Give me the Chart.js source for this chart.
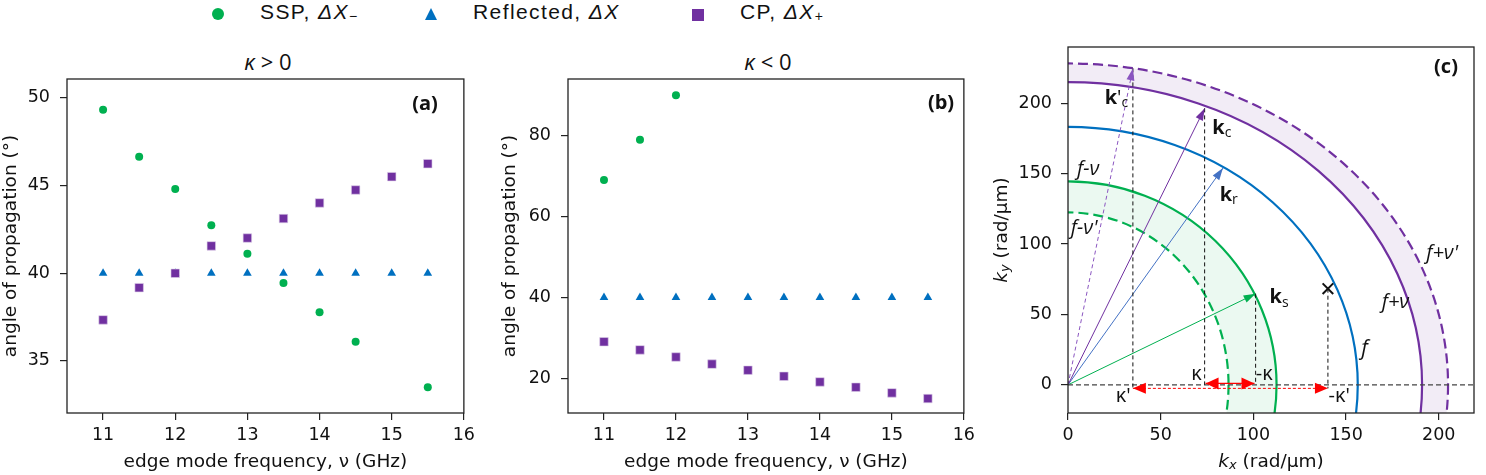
<!DOCTYPE html>
<html>
<head>
<meta charset="utf-8">
<script src="https://cdn.jsdelivr.net/npm/chart.js@4/dist/chart.umd.min.js"></script>
<style>
  body { margin: 0; width: 1486px; height: 475px; position: relative; background: #fff; overflow: hidden; }
  canvas { position: absolute; top: 0; }
  .lg { position: absolute; top: 0; font: 21px "Liberation Sans", Arial, sans-serif; letter-spacing: 1.4px; line-height: 24px; color: #111; white-space: nowrap; }
  .lg sub { font-size: 14px; vertical-align: -2px; }
  .mk { position: absolute; }
  .ttl { position: absolute; top: 50px; font: 22px "Open Sans", sans-serif; line-height: 22px; color: #111; transform: translateX(-50%); white-space: nowrap; }
  .pl { position: absolute; font: bold 20px "Open Sans", sans-serif; line-height: 20px; color: #111; transform: translateX(-50%); }
</style>
</head>
<body>

<!-- legend -->
<div class="mk" style="left:212px;top:8px;width:12px;height:12px;border-radius:50%;background:#00B050"></div>
<div class="lg" style="left:260px">SSP, <i>ΔX</i><sub>−</sub></div>
<div class="mk" style="left:425px;top:8px;width:0;height:0;border-left:6px solid transparent;border-right:6px solid transparent;border-bottom:12px solid #0070C0"></div>
<div class="lg" style="left:473px">Reflected, <i>ΔX</i></div>
<div class="mk" style="left:692px;top:9px;width:12px;height:12px;background:#7030A0"></div>
<div class="lg" style="left:740px">CP, <i>ΔX</i><sub>+</sub></div>

<div class="ttl" style="left:268px"><i>κ</i> &gt; 0</div>
<div class="ttl" style="left:768px"><i>κ</i> &lt; 0</div>

<canvas id="chartA" width="480" height="475" style="left:0"></canvas>
<canvas id="chartB" width="500" height="475" style="left:480px"></canvas>
<canvas id="chartC" width="506" height="475" style="left:980px"></canvas>

<div class="pl" style="left:425px;top:93px">(a)</div>
<div class="pl" style="left:941px;top:92px">(b)</div>
<div class="pl" style="left:1446px;top:56px">(c)</div>

<script>
// edge mode frequency (GHz)
const freqs = [11, 11.5, 12, 12.5, 13, 13.5, 14, 14.5, 15, 15.5];

// kappa > 0, angle of propagation (deg)
const sspPos  = [49.33, 46.65, 44.81, 42.74, 41.12, 39.45, 37.78, 36.1, null, 33.5];
const reflPos = [40, 40, 40, 40, 40, 40, 40, 40, 40, 40];
const cpPos   = [37.34, 39.18, 40.0, 41.56, 42.01, 43.12, 44.01, 44.75, 45.51, 46.25];

// kappa < 0
const sspNeg  = [69.0, 78.9, 89.9, null, null, null, null, null, null, null];
const reflNeg = [40, 40, 40, 40, 40, 40, 40, 40, 40, 40];
const cpNeg   = [29.1, 27.1, 25.35, 23.6, 22.1, 20.6, 19.2, 17.9, 16.5, 15.1];

const freqTicks = [11, 12, 13, 14, 15, 16];
const angleTicksA = [35, 40, 45, 50];
const angleTicksB = [20, 40, 60, 80];

// panel (c): isofrequency contours, intercepts on kx / ky axes (rad/um)
const contourNames = ["f-ν'", "f-ν", "f", "f+ν", "f+ν'"];
const contourKx = [86.6, 112.5, 156.3, 191, 205];
const contourKy = [122.5, 144.5, 183.2, 215, 228.3];

// wavevector tips
const vecNames = ["k'c", "kc", "kr", "ks"];
const vecKx = [35, 73.7, 83.6, 101.2];
const vecKy = [224.8, 196.4, 154, 64.7];

// forbidden point (x) and kappa arrows
const crossKx = 140.2, crossKy = 68.3;
const kappaKx = [74.2, 100.6], kappaKy = 1;
const kappaPrimeKx = [35, 140.2], kappaPrimeKy = -2.5;

const kTicks = [0, 50, 100, 150, 200];

const GREEN = '#00B050', BLUE = '#0070C0', PURPLE = '#7030A0';
const TICKFONT = {family: 'DejaVu Sans', size: 17.5};
const LABELFONT = {family: 'DejaVu Sans', size: 18.5};

function pts(xs, ys) {
    return xs.map((x, i) => ({x: x, y: ys[i]})).filter(p => p.y !== null);
}

const framePlugin = {
    id: 'frame',
    afterDraw(chart) {
        const {ctx, chartArea: a} = chart;
        ctx.save();
        ctx.strokeStyle = '#222';
        ctx.lineWidth = 1.3;
        ctx.strokeRect(a.left, a.top, a.width, a.height);
        ctx.restore();
    }
};

function axisGrid() {
    return {display: true, drawOnChartArea: false, drawTicks: true, tickLength: 7, color: '#222', lineWidth: 1.2};
}

function angleChart(id, ssp, refl, cp, yMin, yMax, yTicks, yAxisWidth, yTitlePad) {
    return new Chart(document.getElementById(id), {
        type: 'scatter',
        data: {
            datasets: [
                {label: 'CP', data: pts(freqs, cp), pointStyle: 'rect', pointRadius: 6, backgroundColor: PURPLE, borderColor: '#ddd0ea', borderWidth: 0.6},
                {label: 'SSP', data: pts(freqs, ssp), pointStyle: 'circle', pointRadius: 4, backgroundColor: GREEN, borderColor: GREEN, borderWidth: 0},
                {label: 'Reflected', data: pts(freqs, refl), pointStyle: 'triangle', pointRadius: 5, backgroundColor: BLUE, borderColor: BLUE, borderWidth: 0}
            ]
        },
        options: {
            responsive: false,
            animation: false,
            layout: {padding: {left: 0, right: 11, top: 79, bottom: 0}},
            plugins: {legend: {display: false}, tooltip: {enabled: false}},
            scales: {
                x: {
                    type: 'linear', min: 10.5, max: 16,
                    afterFit: s => { s.height = 62; },
                    afterBuildTicks: s => { s.ticks = freqTicks.map(v => ({value: v})); },
                    grid: axisGrid(), border: {display: false},
                    ticks: {font: TICKFONT, color: '#111', padding: 5, maxRotation: 0},
                    title: {display: true, text: 'edge mode frequency, ν (GHz)', font: LABELFONT, color: '#111', padding: {top: 0, bottom: 2}}
                },
                y: {
                    type: 'linear', min: yMin, max: yMax,
                    afterFit: s => { s.width = yAxisWidth; },
                    afterBuildTicks: s => { s.ticks = yTicks.map(v => ({value: v})); },
                    grid: axisGrid(), border: {display: false},
                    ticks: {font: TICKFONT, color: '#111', padding: 10},
                    title: {display: true, text: 'angle of propagation (°)', font: LABELFONT, color: '#111', padding: {top: yTitlePad, bottom: 0}}
                }
            }
        },
        plugins: [framePlugin]
    });
}

angleChart('chartA', sspPos, reflPos, cpPos, 32.03, 51.08, angleTicksA, 67, 0);
angleChart('chartB', sspNeg, reflNeg, cpNeg, 11.54, 93.9, angleTicksB, 88, 19);

// ---------- panel (c) ----------
const contourStyle = [
    {color: GREEN, dash: [10, 5]},
    {color: GREEN, dash: []},
    {color: BLUE, dash: []},
    {color: PURPLE, dash: []},
    {color: PURPLE, dash: [10, 5]}
];
const bands = [[0, 1, 'rgba(0,176,80,0.08)'], [3, 4, 'rgba(112,48,160,0.09)']];

const contourPlugin = {
    id: 'contours',
    beforeDatasetsDraw(chart) {
        const {ctx, chartArea: a, scales: {x, y}} = chart;
        const cx = x.getPixelForValue(0), cy = y.getPixelForValue(0);
        const rx = v => x.getPixelForValue(v) - cx;
        const ry = v => cy - y.getPixelForValue(v);
        ctx.save();
        ctx.beginPath();
        ctx.rect(a.left, a.top, a.width, a.height);
        ctx.clip();
        bands.forEach(([i, j, fill]) => {
            ctx.beginPath();
            ctx.ellipse(cx, cy, rx(contourKx[j]), ry(contourKy[j]), 0, 0, 2 * Math.PI);
            ctx.moveTo(cx + rx(contourKx[i]), cy);
            ctx.ellipse(cx, cy, rx(contourKx[i]), ry(contourKy[i]), 0, 0, 2 * Math.PI);
            ctx.fillStyle = fill;
            ctx.fill('evenodd');
        });
        contourKx.forEach((k, i) => {
            ctx.beginPath();
            ctx.ellipse(cx, cy, rx(k), ry(contourKy[i]), 0, 0, 2 * Math.PI);
            ctx.strokeStyle = contourStyle[i].color;
            ctx.lineWidth = 2.2;
            ctx.setLineDash(contourStyle[i].dash);
            ctx.stroke();
        });
        ctx.restore();
    }
};

const arrowPlugin = {
    id: 'arrows',
    afterDatasetsDraw(chart) {
        const ctx = chart.ctx;
        chart.data.datasets.forEach((ds, i) => {
            if (!ds.arrow) return;
            const p = chart.getDatasetMeta(i).data;
            const head = (from, to) => {
                const ang = Math.atan2(to.y - from.y, to.x - from.x);
                ctx.save();
                ctx.translate(to.x, to.y);
                ctx.rotate(ang);
                ctx.beginPath();
                ctx.moveTo(0, 0);
                ctx.lineTo(-ds.headLen, ds.headW / 2);
                ctx.lineTo(-ds.headLen, -ds.headW / 2);
                ctx.closePath();
                ctx.fillStyle = ds.headColor || ds.borderColor;
                ctx.fill();
                ctx.restore();
            };
            head(p[0], p[p.length - 1]);
            if (ds.arrow === 'both') head(p[p.length - 1], p[0]);
        });
    }
};

// annotation text: [kx, ky, parts], parts = [text, font, dy]
const SANS = '"Open Sans", sans-serif';
const annotations = [
    [19.8, 203.5, [['k', 'bold 20px ' + SANS], ["'", '20px ' + SANS], ['c', '14px ' + SANS, 5]]],
    [77.8, 182.3, [['k', 'bold 20px ' + SANS], ['c', '14px ' + SANS, 5]]],
    [81.8, 135, [['k', 'bold 20px ' + SANS], ['r', '14px ' + SANS, 5]]],
    [108.7, 61.9, [['k', 'bold 20px ' + SANS], ['s', '14px ' + SANS, 5]]],
    [4.9, 152.8, [['f-ν', 'italic 20px ' + SANS]]],
    [1.5, 111.5, [["f-ν'", 'italic 20px ' + SANS]]],
    [193.2, 93.8, [["f+ν'", 'italic 20px ' + SANS]]],
    [169.2, 58.3, [['f+ν', 'italic 20px ' + SANS]]],
    [158.2, 25.3, [['f', 'italic 21px ' + SANS]]],
    [66.5, 7.6, [['κ', '20px ' + SANS]]],
    [101.3, 7.6, [['-κ', '20px ' + SANS]]],
    [25.8, -8.2, [["κ'", '20px ' + SANS]]],
    [140.5, -8.2, [["-κ'", '20px ' + SANS]]]
];

function richWidth(ctx, parts) {
    let w = 0;
    parts.forEach(([t, f]) => { ctx.font = f; w += ctx.measureText(t).width; });
    return w;
}
function drawRich(ctx, x, y, parts) {
    parts.forEach(([t, f, dy]) => {
        ctx.font = f;
        ctx.fillText(t, x, y + (dy || 0));
        x += ctx.measureText(t).width;
    });
}

const labelPlugin = {
    id: 'labels',
    afterDraw(chart) {
        const {ctx, chartArea: a, scales: {x, y}} = chart;
        ctx.save();
        ctx.fillStyle = '#111';
        ctx.textBaseline = 'middle';
        ctx.textAlign = 'left';
        annotations.forEach(([kx, ky, parts]) => {
            drawRich(ctx, x.getPixelForValue(kx), y.getPixelForValue(ky), parts);
        });
        // axis titles with italic k and subscripts
        const xt = [['k', 'italic 18.5px "DejaVu Sans"'], ['x', 'italic 13px "DejaVu Sans"', 4], [' (rad/μm)', '18.5px "DejaVu Sans"']];
        const w1 = richWidth(ctx, xt);
        drawRich(ctx, (a.left + a.right) / 2 - w1 / 2, 462, xt);
        const yt = [['k', 'italic 18.5px "DejaVu Sans"'], ['y', 'italic 13px "DejaVu Sans"', 4], [' (rad/μm)', '18.5px "DejaVu Sans"']];
        const w2 = richWidth(ctx, yt);
        ctx.translate(22, (a.top + a.bottom) / 2);
        ctx.rotate(-Math.PI / 2);
        drawRich(ctx, -w2 / 2, 0, yt);
        ctx.restore();
    }
};

function seg(x0, y0, x1, y1) { return [{x: x0, y: y0}, {x: x1, y: y1}]; }
function guide(x0, y0, x1, y1) {
    return {data: seg(x0, y0, x1, y1), showLine: true, borderColor: '#111', borderWidth: 1, borderDash: [4, 3], pointRadius: 0};
}

const vecStyle = [
    {color: '#8a55c0', dash: [4, 3]},
    {color: PURPLE, dash: []},
    {color: '#4472C4', dash: []},
    {color: GREEN, dash: []}
];

const cDatasets = [
    {data: [{x: crossKx, y: crossKy}], pointStyle: 'crossRot', pointRadius: 7.5, borderColor: '#111', pointBorderWidth: 2, showLine: false},
    {data: seg(kappaKx[0], kappaKy, kappaKx[1], kappaKy), showLine: true, borderColor: '#ff0000', borderWidth: 1.3, pointRadius: 0, arrow: 'both', headLen: 13, headW: 12},
    {data: seg(kappaPrimeKx[0], kappaPrimeKy, kappaPrimeKx[1], kappaPrimeKy), showLine: true, borderColor: '#ff0000', borderWidth: 1, borderDash: [3, 2], pointRadius: 0, arrow: 'both', headLen: 13, headW: 11},
    guide(vecKx[0], vecKy[0], vecKx[0], kappaPrimeKy),
    guide(vecKx[1], vecKy[1], vecKx[1], 0),
    guide(vecKx[3], vecKy[3], vecKx[3], 0),
    guide(crossKx, crossKy, crossKx, kappaPrimeKy),
    {data: seg(0, 0, 219, 0), showLine: true, borderColor: '#444', borderWidth: 1.2, borderDash: [5, 3], pointRadius: 0}
];
vecKx.forEach((k, i) => {
    cDatasets.push({
        label: vecNames[i], data: seg(0, 0, k, vecKy[i]), showLine: true,
        borderColor: vecStyle[i].color, borderWidth: 1, borderDash: vecStyle[i].dash,
        pointRadius: 0, arrow: 'end', headLen: 12, headW: 8
    });
});

new Chart(document.getElementById('chartC'), {
    type: 'scatter',
    data: {datasets: cDatasets},
    options: {
        responsive: false,
        animation: false,
        layout: {padding: {left: 0, right: 12, top: 47, bottom: 0}},
        plugins: {legend: {display: false}, tooltip: {enabled: false}},
        scales: {
            x: {
                type: 'linear', min: 0, max: 219,
                afterFit: s => { s.height = 62; },
                afterBuildTicks: s => { s.ticks = kTicks.map(v => ({value: v})); },
                grid: axisGrid(), border: {display: false},
                ticks: {font: TICKFONT, color: '#111', padding: 5, maxRotation: 0}
            },
            y: {
                type: 'linear', min: -20, max: 240,
                afterFit: s => { s.width = 88; },
                afterBuildTicks: s => { s.ticks = kTicks.map(v => ({value: v})); },
                grid: axisGrid(), border: {display: false},
                ticks: {font: TICKFONT, color: '#111', padding: 9}
            }
        }
    },
    plugins: [contourPlugin, arrowPlugin, labelPlugin, framePlugin]
});
</script>
</body>
</html>
